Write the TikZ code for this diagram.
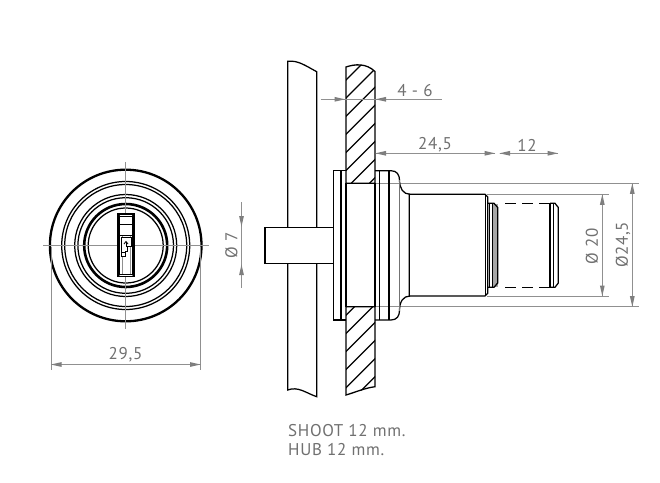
\documentclass[tikz,border=0pt]{standalone}
\usepackage{fontspec}
\setmainfont[LetterSpace=4]{PT Sans}
\definecolor{dimgray}{RGB}{125,125,125}
\definecolor{textgray}{RGB}{112,112,112}
\tikzset{
  part/.style={draw=black,line width=1.25pt},
  thinpart/.style={draw=black,line width=0.8pt},
  heavy/.style={draw=black,line width=2.3pt},
  hatchline/.style={draw=black,line width=1.25pt},
  dimline/.style={draw=dimgray!85,line width=0.75pt},
  dimtext/.style={text=textgray,font=\fontsize{17}{19}\selectfont,inner sep=0pt},
  note/.style={text=textgray,font=\fontsize{17}{19}\selectfont,inner sep=0pt,anchor=base west},
}
\newcommand{\arrowh}[3]{\fill[dimgray] (#1,#2) -- ++(#3:10.5) -- ++(#3+90:2.4) -- cycle;\fill[dimgray] (#1,#2) -- ++(#3:10.5) -- ++(#3-90:2.4) -- cycle;}
\begin{document}
\begin{tikzpicture}[x=1pt,y=-1pt]
\useasboundingbox (0,0) rectangle (660,482);
% ---------- front view
\coordinate (c) at (125.7,245.5);
\draw[heavy] (c) circle (75.8);
\draw[part] (c) circle (64);
\draw[part] (c) circle (61);
\draw[part] (c) circle (51);
\draw[part] (c) circle (47.8);
\draw[heavy,line width=2.6pt] (c) circle (41.5);
\draw[part] (c) circle (37.5);
\draw[dimline] (43,245.5) -- (209,245.5);
\draw[dimline] (125.7,162) -- (125.7,329);
\draw[part,line width=1.7pt,fill=white] (117.7,214) rectangle (134.3,276.5);
\draw[thinpart] (119.7,216) rectangle (132.3,274.5);
\draw[thinpart] (117.7,214) -- (119.7,216) (134.3,214) -- (132.3,216) (117.7,276.5) -- (119.7,274.5) (134.3,276.5) -- (132.3,274.5);
\draw[thinpart] (120,224.5) -- (132,224.5);
\draw[thinpart] (120,235) -- (132,235);
\draw[dimline] (122,236) -- (122,274) (130,236) -- (130,274);
\draw[thinpart,fill=white] (121,237) -- (131,237) -- (131,246.5) -- (127,246.5) -- (127,251) -- (125,251) -- (125,256.5) -- (121,256.5) -- cycle;
\draw[thinpart] (121,252) -- (125,252);
\draw[thinpart] (126,247) -- (126,242);
\draw[thinpart] (124,244) -- (126,241.5) -- (128,244);
% 29,5
\draw[dimline] (51,247) -- (51,370);
\draw[dimline] (200.5,247) -- (200.5,370);
\draw[dimline] (51,364.5) -- (200.5,364.5);
\arrowh{51}{364.5}{0}
\arrowh{200.5}{364.5}{180}
\node[dimtext] (d295) at (125.5,355) {29,5};
% diameter 7
\draw[dimline] (241.5,202) -- (241.5,287.5);
\arrowh{241.5}{226.5}{-90}
\arrowh{241.5}{264.5}{90}
\node[dimtext,rotate=90] (d7) at (231.5,245.5) {Ø 7};
% ---------- side view: extension lines
\draw[dimline] (346,183.3) -- (639,183.3);
\draw[dimline] (346,306.7) -- (639,306.7);
\draw[dimline] (487,194.3) -- (609,194.3);
\draw[dimline] (487,296) -- (609,296);
% panel
\draw[part] (316.7,227) -- (316.7,71.7) .. controls (306,66) and (298,60) .. (287.7,61.3) -- (287.7,227);
\draw[part] (287.7,263.5) -- (287.7,390) .. controls (298,386) and (306,393) .. (316.7,396.7) -- (316.7,263.5);
% stem
\draw[part] (333.7,227.3) -- (265,227.3) -- (265,263.2) -- (333.7,263.2);
% hatched wall, top
\begin{scope}
\clip (346,183.3) -- (346,67) .. controls (355,64) and (366,63) .. (375,71.5) -- (375,183.3) -- cycle;
\foreach \n in {-2,...,12}{
  \pgfmathsetmacro{\k}{426+18.1*\n}
  \draw[hatchline] (340,\k-340) -- (380,\k-380);
}
\end{scope}
% hatched wall, bottom
\begin{scope}
\clip (346,306.7) -- (375,306.7) -- (375,386.7) -- (346,395) -- cycle;
\foreach \n in {11,...,19}{
  \pgfmathsetmacro{\k}{426+18.1*\n}
  \draw[hatchline] (340,\k-340) -- (380,\k-380);
}
\end{scope}
\draw[part,line width=1.3pt] (346,183.3) -- (346,67) .. controls (355,64) and (366,63) .. (375,71.5) -- (375,183.3) -- cycle;
\draw[part,line width=1.3pt] (346,306.7) -- (375,306.7) -- (375,386.7) .. controls (365,388) and (356,392) .. (346,395) -- cycle;
% flange
\draw[part] (346,170.7) -- (333.7,170.7) -- (333.7,320) -- (346,320);
\draw[part] (341,170.7) -- (341,320);
\draw[part] (346,183.3) -- (346,306.7);
\draw[part] (375,183.3) -- (375,306.7);
\draw[part] (379.3,170.7) -- (379.3,320);
\draw[part] (389,170.7) -- (389,320);
\draw[part] (375,170.7) -- (391,170.7) .. controls (397,170.7) and (399.5,175) .. (399.5,180) .. controls (399.5,188) and (403,194.3) .. (410,194.3);
\draw[part] (375,320) -- (391,320) .. controls (397,320) and (399.5,315.7) .. (399.5,310.5) .. controls (399.5,302) and (403,296) .. (410,296);
\draw[dimline,draw=black!55] (399.5,180) -- (399.5,310.5);
% body
\draw[part] (409.3,194.3) -- (485,194.3) -- (487.7,197) -- (487.7,293.3) -- (485,296) -- (409.3,296) -- cycle;
\draw[thinpart] (485.5,194.3) -- (485.5,296);
% groove
\fill[black!35] (491.7,204) rectangle (497.7,287);
\draw[part] (488,203.3) -- (494,203.3) -- (497.7,207.5) -- (497.7,283) -- (494,287.3) -- (488,287.3);
\draw[thinpart] (489.7,203.3) -- (489.7,287.3);
\draw[thinpart] (492,204) -- (492,287);
% dashed
\draw[part,dash pattern=on 11pt off 6pt] (505,203.3) -- (551,203.3);
\draw[part,dash pattern=on 11pt off 6pt] (505,287.3) -- (551,287.3);
% end
\draw[part] (550,203.3) -- (550,287.3);
\draw[thinpart] (553,203.6) -- (553,287);
\draw[part] (550,203.3) -- (555,203.3) -- (558.3,207.5) -- (558.3,283) -- (555,287.3) -- (550,287.3);
% ---------- dimensions
\draw[dimline] (320.7,99.3) -- (441.7,99.3);
\arrowh{345}{99.3}{180}
\arrowh{375.5}{99.3}{0}
\node[dimtext] (d46) at (415,91) {4 - 6};
\draw[dimline] (375.5,153.3) -- (495,153.3);
\arrowh{375.5}{153.3}{0}
\arrowh{495}{153.3}{180}
\node[dimtext] (d245) at (435,145) {24,5};
\draw[dimline] (499.5,153.3) -- (558,153.3);
\arrowh{499.5}{153.3}{0}
\arrowh{558}{153.3}{180}
\node[dimtext] (d12) at (527,145) {12};
\draw[dimline] (602.3,194.3) -- (602.3,296);
\arrowh{602.3}{194.3}{90}
\arrowh{602.3}{296}{-90}
\node[dimtext,rotate=90] (d20) at (592,246) {Ø 20};
\draw[dimline] (632.3,183.3) -- (632.3,306.7);
\arrowh{632.3}{183.3}{90}
\arrowh{632.3}{306.7}{-90}
\node[dimtext,rotate=90] (d2452) at (623,245) {Ø24,5};
\node[note] (n1) at (288,436.5) {SHOOT 12 mm.};
\node[note] (n2) at (288,455.5) {HUB 12 mm.};
\end{tikzpicture}
\end{document}
